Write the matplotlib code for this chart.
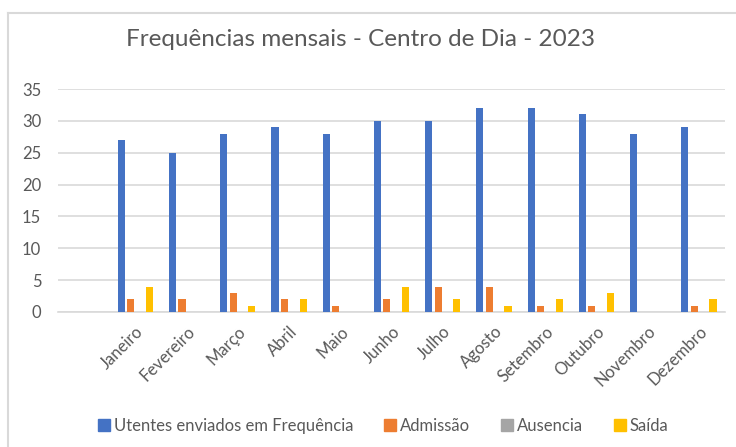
import numpy as np
import matplotlib
matplotlib.use("Agg")
import matplotlib.pyplot as plt
from matplotlib.lines import Line2D

MONTHS = ["Janeiro", "Fevereiro", "Março", "Abril", "Maio", "Junho",
          "Julho", "Agosto", "Setembro", "Outubro", "Novembro", "Dezembro"]
UTENTES = [27, 25, 28, 29, 28, 30, 30, 32, 32, 31, 28, 29]
ADMISSAO = [2, 2, 3, 2, 1, 2, 4, 4, 1, 1, 0, 1]
AUSENCIA = [0, 0, 0, 0, 0, 0, 0, 0, 0, 0, 0, 0]
SAIDA = [4, 0, 1, 2, 0, 4, 2, 1, 2, 3, 0, 2]

SERIES = [
    ("Utentes enviados em Frequência", UTENTES, "#4472C4"),
    ("Admissão", ADMISSAO, "#ED7D31"),
    ("Ausencia", AUSENCIA, "#A5A5A5"),
    ("Saída", SAIDA, "#FFC000"),
]

TEXT = "#595959"
GRID = "#D9D9D9"

plt.rcParams["font.family"] = ["Lato", "DejaVu Sans"]

fig = plt.figure(figsize=(7.36, 4.47), dpi=100)
ax = fig.add_axes([58 / 736, 1 - 312 / 447, 667 / 736, 223 / 447])

x = np.arange(len(MONTHS))
offsets = [-0.275, -0.09, 0.095, 0.275]
for (name, vals, color), off in zip(SERIES, offsets):
    ax.bar(x + off, vals, width=0.14, color=color, label=name, zorder=3)

ax.set_xlim(-1.51, 11.51)
ax.set_ylim(0, 35)
ax.set_yticks(range(0, 36, 5))
ax.yaxis.grid(True, color=GRID, linewidth=1.2, zorder=0)
for s in ["top", "right", "left"]:
    ax.spines[s].set_visible(False)
ax.spines["bottom"].set_color(GRID)
ax.spines["bottom"].set_linewidth(1.2)
ax.tick_params(axis="both", length=0, colors=TEXT, labelsize=12)
ax.tick_params(axis="y", pad=12)
ax.set_xticks(x)
ax.set_xticklabels(MONTHS, rotation=45, ha="right", rotation_mode="anchor")
ax.tick_params(axis="x", pad=8)

fig.text(360 / 736, 1 - 40 / 447, "Frequências mensais - Centro de Dia - 2023",
         ha="center", va="center", fontsize=17.5, color=TEXT)

handles = [Line2D([], [], marker="s", linestyle="none", markersize=8,
                  markerfacecolor=c, markeredgecolor=c) for _, _, c in SERIES]
fig.legend(handles, [n for n, _, _ in SERIES], loc="center",
           bbox_to_anchor=(383 / 736, 1 - 426 / 447), ncol=4, frameon=False,
           fontsize=12, labelcolor=TEXT, handletextpad=0.2, columnspacing=1.8,
           handlelength=0.8)

# chart frame
fig.add_artist(Line2D([8 / 736, 1], [1 - 13 / 447, 1 - 13 / 447], color=GRID,
                      linewidth=1.5, transform=fig.transFigure))
fig.add_artist(Line2D([8 / 736, 8 / 736], [0, 1 - 13 / 447], color=GRID,
                      linewidth=1.5, transform=fig.transFigure))

fig.savefig("out.png", dpi=100)
